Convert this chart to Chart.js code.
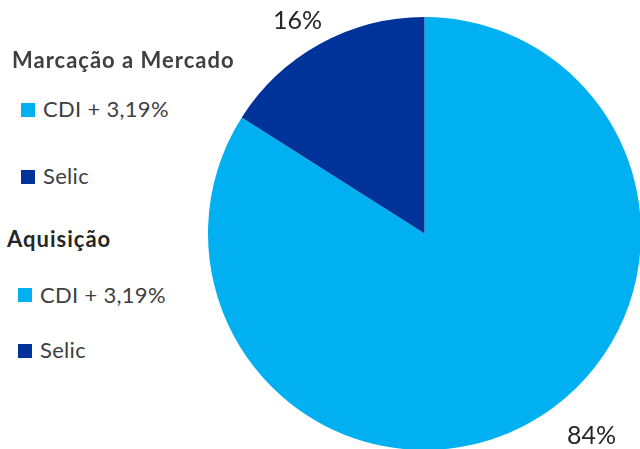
<!DOCTYPE html>
<html>
<head>
<meta charset="utf-8">
<script src="https://cdn.jsdelivr.net/npm/chart.js@4"></script>
<style>
html,body{margin:0;padding:0;width:640px;height:449px;overflow:hidden;background:#fff;font-family:Lato,"Open Sans",sans-serif;}
#wrap{position:absolute;left:208px;top:17px;width:433px;height:433px;}
.t{position:absolute;white-space:nowrap;color:#404040;line-height:1;}
.h{font-weight:bold;font-size:22px;letter-spacing:1px;}
.i{font-size:22px;letter-spacing:0.3px;}
.sq{position:absolute;width:14px;height:14px;}
.p{font-size:25px;color:#262626;}
</style>
</head>
<body>
<div id="wrap"><canvas id="c"></canvas></div>
<div id="legend"></div>
<script>
const categories = ["CDI + 3,19%", "Selic"];
const values = [84, 16];
const colors = ["#00B0F0", "#003399"];
const groupTitles = ["Marcação a Mercado", "Aquisição"];
const pctLabels = ["84%", "16%"];

// legend (HTML text)
const L = document.getElementById('legend');
function add(html, cls, x, y){const d=document.createElement('div');d.className=cls;d.style.left=x+'px';d.style.top=y+'px';d.innerHTML=html;L.appendChild(d);return d;}
const layout = [
  {title:[12,49], items:[[21,103,43,98],[21,170,43,165]]},
  {title:[7,228], items:[[18,288,40,284],[18,344,40,339]]}
];
groupTitles.forEach((g,gi)=>{
  const lay = layout[gi];
  add(g,'t h',lay.title[0],lay.title[1]).style.color = gi===0 ? '#404040' : '#262626';
  categories.forEach((c,ci)=>{
    const it = lay.items[ci];
    const s = add('','sq',it[0],it[1]); s.style.background = colors[ci];
    add(c,'t i',it[2],it[3]);
  });
});
add(pctLabels[1],'t p',273,7);
add(pctLabels[0],'t p',567,422);

new Chart(document.getElementById('c'), {
  type: 'pie',
  data: { labels: categories, datasets: [{ data: values, backgroundColor: colors, borderWidth: 0 }] },
  options: {
    responsive: true, maintainAspectRatio: false, animation: false,
    layout: { padding: 0 },
    plugins: { legend: { display: false }, tooltip: { enabled: false } }
  }
});
</script>
</body>
</html>
